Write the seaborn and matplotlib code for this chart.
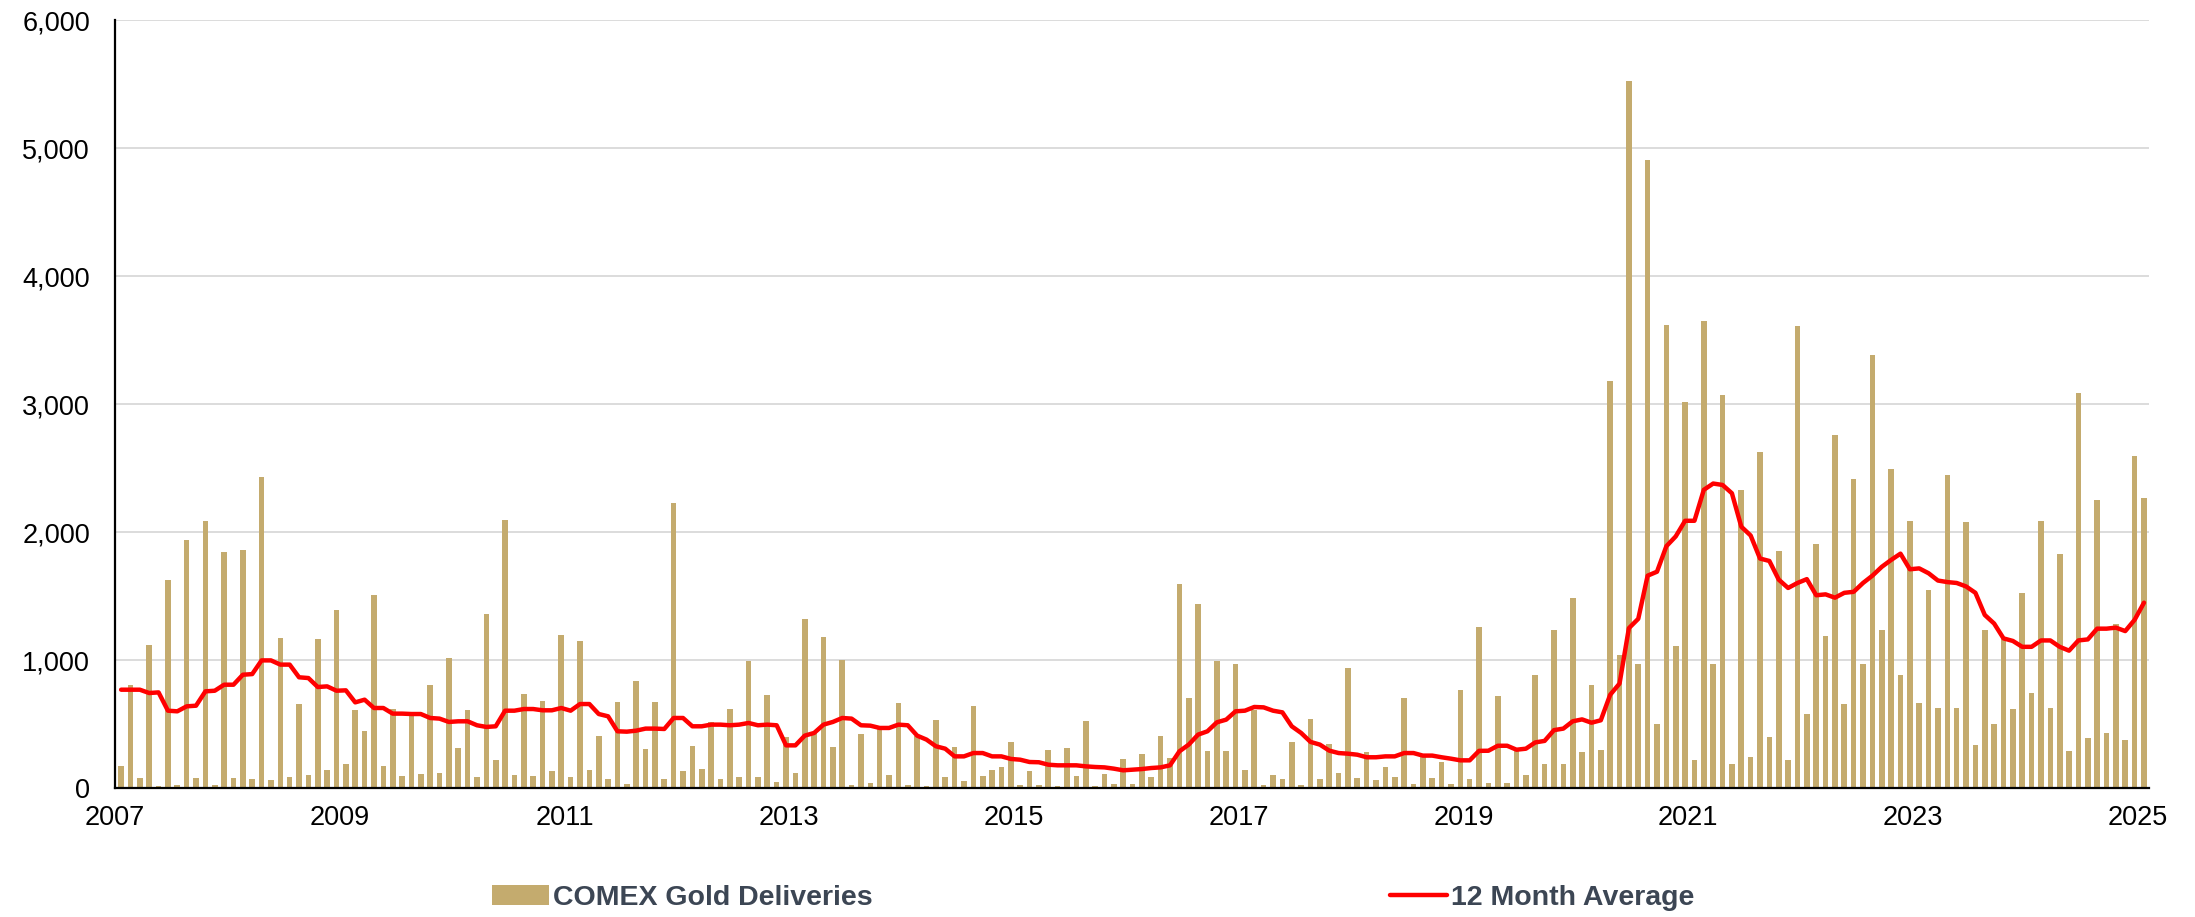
"""COMEX gold deliveries with 12 month average."""

import matplotlib.pyplot as plt
import numpy as np
import pandas as pd
import seaborn as sns
from matplotlib.ticker import FuncFormatter

# monthly deliveries, Jan 2007 .. Jan 2025
deliveries = [
    169, 807, 78, 1120, 18, 1628, 26, 1940, 78, 2089, 26, 1841,
    78, 1862, 70, 2430, 60, 1172, 86, 656, 104, 1164, 138, 1388,
    190, 607, 443, 1508, 169, 620, 96, 591, 112, 802, 117, 1016,
    312, 612, 86, 1359, 221, 2096, 102, 734, 91, 680, 130, 1193,
    86, 1151, 138, 404, 70, 672, 30, 839, 307, 672, 70, 2227,
    130, 331, 151, 513, 73, 620, 86, 995, 86, 729, 49, 396,
    117, 1320, 430, 1177, 320, 1003, 26, 422, 39, 469, 104, 664,
    26, 404, 18, 534, 83, 318, 57, 643, 91, 143, 161, 357,
    21, 130, 21, 294, 16, 310, 91, 526, 16, 109, 34, 227,
    31, 268, 86, 409, 234, 1594, 703, 1440, 286, 990, 286, 969,
    138, 612, 26, 102, 70, 357, 26, 539, 70, 346, 117, 935,
    78, 279, 65, 161, 86, 703, 34, 253, 78, 201, 31, 768,
    73, 1255, 42, 720, 42, 299, 100, 881, 184, 1238, 184, 1487,
    280, 808, 299, 3180, 1038, 5521, 969, 4908, 502, 3621, 1111, 3019,
    215, 3651, 969, 3069, 184, 2330, 241, 2625, 395, 1851, 222, 3613,
    579, 1908, 1188, 2759, 655, 2418, 969, 3383, 1238, 2494, 881, 2088,
    663, 1544, 625, 2444, 625, 2080, 337, 1238, 502, 1169, 617, 1525,
    739, 2088, 625, 1831, 287, 3084, 387, 2253, 433, 1284, 375, 2598,
    2264,
]

avg_12m = [
    768, 768, 768, 742, 747, 604, 599, 638, 643, 755, 760, 807,
    807, 885, 890, 997, 997, 964, 964, 865, 859, 789, 794, 760,
    763, 669, 690, 625, 625, 581, 581, 578, 578, 547, 542, 516,
    521, 521, 490, 477, 482, 604, 604, 617, 617, 607, 607, 625,
    604, 656, 656, 578, 560, 443, 440, 448, 464, 464, 461, 547,
    547, 482, 482, 495, 495, 490, 495, 508, 490, 495, 490, 333,
    333, 409, 430, 495, 516, 547, 542, 490, 487, 469, 469, 495,
    490, 409, 378, 326, 307, 247, 247, 273, 273, 247, 247, 227,
    221, 203, 201, 182, 177, 177, 177, 169, 164, 161, 151, 138,
    143, 148, 156, 161, 177, 286, 339, 417, 443, 513, 534, 599,
    604, 633, 630, 604, 591, 482, 430, 360, 339, 292, 273, 268,
    260, 240, 240, 247, 247, 273, 273, 253, 253, 240, 229, 216,
    216, 290, 291, 330, 330, 299, 307, 356, 368, 452, 464, 521,
    536, 510, 529, 728, 816, 1249, 1322, 1659, 1690, 1889, 1966, 2088,
    2088, 2330, 2379, 2368, 2303, 2042, 1973, 1793, 1774, 1628, 1563, 1602,
    1632, 1506, 1513, 1487, 1525, 1533, 1602, 1659, 1728, 1782, 1831, 1709,
    1716, 1678, 1621, 1609, 1602, 1575, 1525, 1352, 1285, 1169, 1149, 1103,
    1103, 1153, 1153, 1103, 1073, 1153, 1161, 1245, 1245, 1253, 1226, 1314,
    1448,
]

start_year = 2007
tick_years = list(range(2007, 2026, 2))
y_ticks = [0, 1000, 2000, 3000, 4000, 5000, 6000]
bar_label = "COMEX Gold Deliveries"
line_label = "12 Month Average"

GOLD = "#C4AB6E"
RED = "#FF0000"
TEXT = "#3C4654"

months = np.arange(len(deliveries))
df = pd.DataFrame({
    "x": start_year + (months + 0.65) / 12,
    "deliveries": deliveries,
    "avg": avg_12m,
})

sns.set_theme(style="white")
plt.rcParams["font.family"] = ["Liberation Sans", "DejaVu Sans"]

fig, ax = plt.subplots(figsize=(21.95, 9.17), dpi=100)
fig.subplots_adjust(left=0.0524, right=0.979, bottom=0.1407, top=0.978)

sns.barplot(data=df, x="x", y="deliveries", native_scale=True, width=0.6,
            color=GOLD, saturation=1, errorbar=None, linewidth=0, ax=ax,
            label=bar_label)
sns.lineplot(data=df, x="x", y="avg", color=RED, linewidth=3.2, ax=ax,
             label=line_label)

handles, labels = ax.get_legend_handles_labels()
if ax.get_legend() is not None:
    ax.get_legend().remove()
order = [labels.index(bar_label), labels.index(line_label)]
handles = [handles[i] for i in order]
labels = [labels[i] for i in order]

ax.set_xlim(2007, 2025.098)
ax.set_ylim(0, 6000)
ax.set_xticks(tick_years)
ax.set_xticklabels([str(y) for y in tick_years])
ax.set_yticks(y_ticks)
ax.yaxis.set_major_formatter(FuncFormatter(lambda v, _: f"{v:,.0f}"))
ax.set_xlabel("")
ax.set_ylabel("")

ax.set_axisbelow(True)
ax.yaxis.grid(True, color="#D9D9D9", linewidth=1.3)
ax.xaxis.grid(False)
sns.despine(ax=ax)
for side in ("left", "bottom"):
    ax.spines[side].set_color("black")
    ax.spines[side].set_linewidth(1.6)
ax.tick_params(axis="both", direction="out", length=7, width=1.6,
               color="black", labelcolor="black", labelsize=19.5)
ax.tick_params(axis="y", pad=11)
ax.tick_params(axis="x", pad=5)

leg = fig.legend(handles, labels, loc="center", bbox_to_anchor=(0.498, 0.021),
                 ncol=2, frameon=False, handlelength=2.0, handleheight=0.75,
                 handletextpad=0.12, columnspacing=18.2,
                 prop={"size": 20.5, "weight": "bold"})
for t in leg.get_texts():
    t.set_color(TEXT)

fig.savefig("out.png", dpi=100)
